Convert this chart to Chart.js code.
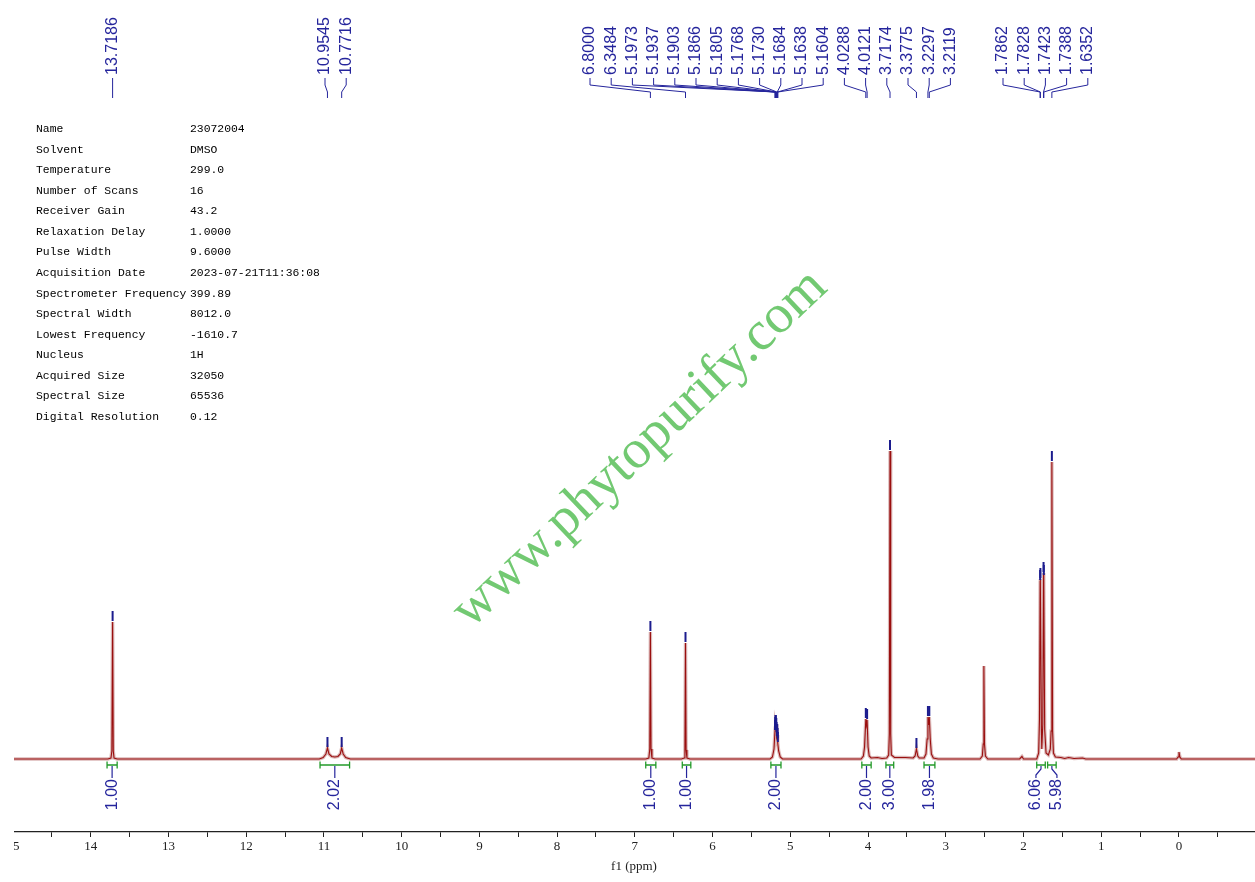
<!DOCTYPE html>
<html><head><meta charset="utf-8">
<script src="https://cdn.jsdelivr.net/npm/chart.js@4"></script>
<style>
html,body{margin:0;padding:0;background:#fff;}
#wrap{position:absolute;left:14px;top:0;width:1241px;height:882px;overflow:hidden;background:#fff;}
#c{position:absolute;left:-14px;top:0;}
</style></head><body>
<div id="wrap"><canvas id="c" width="1255" height="882"></canvas></div>
<script>
// ---- spectrum points (ppm, intensity) ----
const specPpm = [15.00,13.78,13.74,13.728,13.7186,13.710,13.70,13.66,
 11.06,11.01,10.975,10.9545,10.935,10.90,10.86,10.82,10.79,10.7716,10.752,10.72,10.66,
 6.86,6.82,6.808,6.8000,6.792,6.78,6.74,
 6.40,6.365,6.356,6.3484,6.341,6.33,6.29,
 5.26,5.23,5.21,5.1973,5.1937,5.1903,5.1866,5.1805,5.1768,5.1730,5.1684,5.1638,5.1604,5.15,5.13,5.10,
 4.09,4.06,4.045,4.0288,4.020,4.0121,4.000,3.985,3.96,3.88,3.82,
 3.76,3.735,3.726,3.7174,3.709,3.70,3.66,3.52,3.42,
 3.395,3.3775,3.36,3.34,
 3.28,3.255,3.24,3.2297,3.2208,3.2119,3.20,3.185,3.16,3.10,
 2.56,2.53,2.518,2.510,2.502,2.49,2.46,
 2.05,2.02,2.00,
 1.83,1.805,1.7945,1.7862,1.7845,1.7828,1.770,1.765,1.752,1.7423,1.7405,1.7388,1.728,1.71,1.68,
 1.655,1.645,1.6352,1.626,1.615,1.59,1.52,1.47,1.42,1.35,1.24,1.20,
 0.03,0.012,0.0,-0.012,-0.03,-0.98];
const specInt = [0,0,1,8,137,8,1,0,
 0,1.5,5,11,5,2.5,2,2.5,5,11,5,1.5,0,
 0,1,10,127,10,1,0,
 0,1,9,116,9,1,0,
 0,2,10,28,31,33,33,30,26,22,24,20,16,8,2,0,
 0,3,12,40,34,39,12,3,1,1.5,0.5,
 1,4,25,308,25,4,1.5,1.5,1,
 3,10,3,1,
 1,5,20,42,34,42,20,5,1,0,
 0,3,15,93,15,3,0,
 0,2.5,0,
 0,6,40,178,150,180,30,10,35,186,160,183,30,6,4,
 10,28,297,28,6,2,1.5,0.5,1.5,0.5,1,0,
 0,2,7,2,0,0];

// ---- peak labels (ppm) ----
const peakLabels = [13.7186, 10.9545, 10.7716,
 6.8000, 6.3484, 5.1973, 5.1937, 5.1903, 5.1866, 5.1805, 5.1768, 5.1730, 5.1684, 5.1638, 5.1604, 4.0288, 4.0121, 3.7174, 3.3775, 3.2297, 3.2119,
 1.7862, 1.7828, 1.7423, 1.7388, 1.6352];

// ---- integrals ----
const intFrom = [13.79, 11.05, 6.86, 6.39, 5.25, 4.08, 3.77, 3.28, 1.83, 1.69];
const intTo   = [13.66, 10.67, 6.73, 6.28, 5.12, 3.96, 3.67, 3.14, 1.72, 1.58];
const intVal  = ['1.00','2.02','1.00','1.00','2.00','2.00','3.00','1.98','6.06','5.98'];

// ---- acquisition parameters ----
const paramNames = ['Name','Solvent','Temperature','Number of Scans','Receiver Gain','Relaxation Delay','Pulse Width','Acquisition Date','Spectrometer Frequency','Spectral Width','Lowest Frequency','Nucleus','Acquired Size','Spectral Size','Digital Resolution'];
const paramValues = ['23072004','DMSO','299.0','16','43.2','1.0000','9.6000','2023-07-21T11:36:08','399.89','8012.0','-1610.7','1H','32050','65536','0.12'];

const points = specPpm.map((p,i)=>({x:p,y:specInt[i]}));

const BLUE = '#25259c', GREEN = '#239a2a';
const annot = {
  id:'annot',
  afterDraw(chart){
    const ctx = chart.ctx, xs = chart.scales.x, ys = chart.scales.y;
    ctx.save();
    // parameter table
    ctx.fillStyle = '#000';
    ctx.font = '11.4px "Liberation Mono", monospace';
    ctx.textBaseline = 'middle'; ctx.textAlign = 'left';
    paramNames.forEach((n,i)=>{ const y = 129 + i*20.57; ctx.fillText(n,36,y); ctx.fillText(paramValues[i],190,y); });

    // peak labels with connectors
    const groupSizes = [1,2,18,5], groupStart = [null,325,590,1003], gap = 21.2;
    ctx.font = '16px "Liberation Sans", Arial, sans-serif';
    ctx.fillStyle = BLUE; ctx.strokeStyle = BLUE; ctx.lineWidth = 1;
    let idx = 0;
    groupSizes.forEach((sz,g)=>{
      for(let k=0;k<sz;k++,idx++){
        const ppm = peakLabels[idx];
        const px = xs.getPixelForValue(ppm);
        const lx = groupStart[g] === null ? px : groupStart[g] + k*gap;
        ctx.save(); ctx.translate(lx, 75); ctx.rotate(-Math.PI/2);
        ctx.textAlign='left'; ctx.textBaseline='middle';
        ctx.fillText(ppm.toFixed(4),0,0); ctx.restore();
        ctx.beginPath(); ctx.moveTo(lx,78); ctx.lineTo(lx,85); ctx.lineTo(px,92); ctx.lineTo(px,98); ctx.stroke();
        // marker above the peak top
        const j = specPpm.indexOf(ppm);
        const py = ys.getPixelForValue(specInt[j]);
        ctx.save(); ctx.lineWidth = 2; ctx.strokeStyle = '#1c1c8e';
        ctx.beginPath(); ctx.moveTo(px, py-11); ctx.lineTo(px, py-1); ctx.stroke(); ctx.restore();
      }
    });

    // integrals
    const cx = intFrom.map((a,i)=> (xs.getPixelForValue(a)+xs.getPixelForValue(intTo[i]))/2);
    const lx = cx.slice();
    for(let i=1;i<lx.length;i++){ if(lx[i]-lx[i-1] < 21){ const m=(lx[i]+lx[i-1])/2; lx[i-1]=m-10.5; lx[i]=m+10.5; } }
    const by = 765;
    intFrom.forEach((a,i)=>{
      const x1 = xs.getPixelForValue(a), x2 = xs.getPixelForValue(intTo[i]);
      ctx.strokeStyle = GREEN; ctx.lineWidth = 1.3;
      ctx.beginPath(); ctx.moveTo(x1,by); ctx.lineTo(x2,by);
      ctx.moveTo(x1,by-3.5); ctx.lineTo(x1,by+3.5); ctx.moveTo(x2,by-3.5); ctx.lineTo(x2,by+3.5); ctx.stroke();
      ctx.strokeStyle = BLUE; ctx.lineWidth = 1.2;
      ctx.beginPath(); ctx.moveTo(cx[i],by+1); ctx.lineTo(cx[i],by+4); ctx.lineTo(lx[i],by+10); ctx.lineTo(lx[i],by+13); ctx.stroke();
      ctx.save(); ctx.translate(lx[i], by+14); ctx.rotate(-Math.PI/2);
      ctx.textAlign='right'; ctx.textBaseline='middle'; ctx.fillStyle = BLUE;
      ctx.font = '16px "Liberation Sans", Arial, sans-serif';
      ctx.fillText(intVal[i],0,0); ctx.restore();
    });

    // watermark
    ctx.save(); ctx.translate(640,449); ctx.rotate(-43.5*Math.PI/180);
    ctx.font = '55px "Liberation Serif", serif'; ctx.fillStyle = '#72c972';
    ctx.textAlign='center'; ctx.textBaseline='middle';
    ctx.fillText('www.phytopurify.com',0,0); ctx.restore();
    ctx.restore();
  }
};

new Chart(document.getElementById('c'), {
  type:'line',
  data:{ datasets:[
    { data: points, borderColor:'rgba(175,95,95,0.45)', borderWidth:3.4, pointRadius:0, tension:0, order:2 },
    { data: points, borderColor:'#9a0f0f', borderWidth:1.1, pointRadius:0, tension:0, order:1 }
  ]},
  options:{
    responsive:false, animation:false, devicePixelRatio:1,
    layout:{ padding:{left:13,right:0,top:0,bottom:0} },
    plugins:{ legend:{display:false}, tooltip:{enabled:false} },
    scales:{
      x:{ type:'linear', reverse:true, min:-0.978, max:15,
        ticks:{ stepSize:0.5, autoSkip:false, maxRotation:0, includeBounds:false, padding:2,
          color:'#222', font:{family:'"Liberation Serif", serif', size:13},
          callback:(v)=> Number.isInteger(v) ? String(v) : '' },
        grid:{ drawOnChartArea:false, drawTicks:true, tickLength:5, color:'#222', lineWidth:1 },
        border:{ display:true, color:'#222', width:1.3 },
        title:{ display:true, text:'f1 (ppm)', color:'#222', font:{family:'"Liberation Serif", serif', size:13}, padding:{top:0,bottom:8} },
        afterFit(s){ s.height = 50; s.paddingLeft = 0; s.paddingRight = 0; }
      },
      y:{ display:false, min:-73, max:759 }
    }
  },
  plugins:[annot]
});
</script></body></html>
